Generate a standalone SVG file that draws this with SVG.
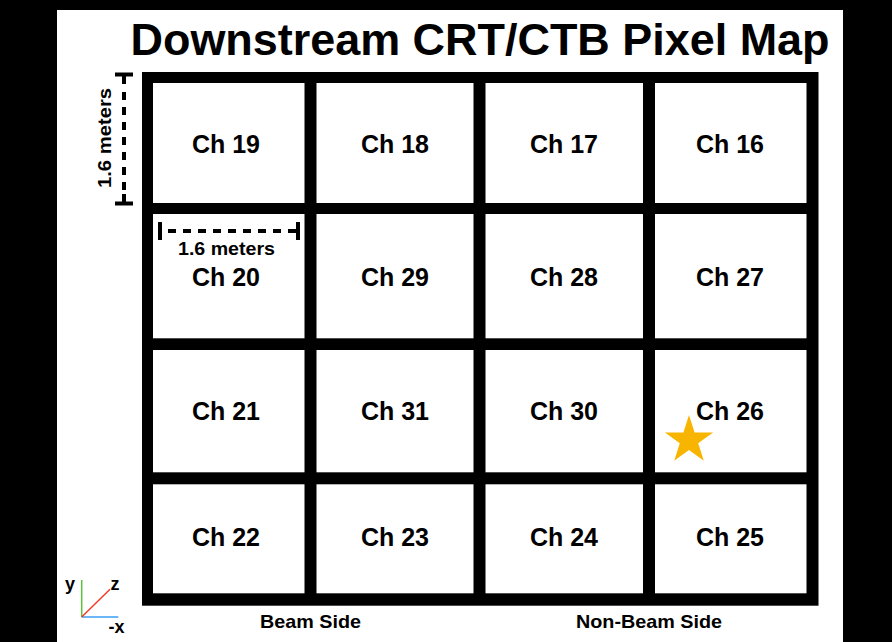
<svg xmlns="http://www.w3.org/2000/svg" width="892" height="642" viewBox="0 0 892 642">
<style>
.lbl{font-family:"Liberation Sans",Arial,Helvetica,sans-serif;font-weight:bold;fill:#000;}
.ch{font-size:25px;text-anchor:middle;}
.cell{fill:#fff;}
.dim{stroke:#000;stroke-width:4;fill:none;}
.dash{stroke:#000;stroke-width:4;stroke-dasharray:8 7;fill:none;}
</style>
<rect x="0" y="0" width="892" height="642" fill="#fff"/>
<rect x="0" y="0" width="57" height="642" fill="#000"/>
<rect x="0" y="0" width="892" height="10" fill="#000"/>
<rect x="843" y="0" width="49" height="642" fill="#000"/>
<text class="lbl" x="130.5" y="55" font-size="44" textLength="699" lengthAdjust="spacingAndGlyphs">Downstream CRT/CTB Pixel Map</text>
<g id="frame">
<rect x="142" y="72" width="676.5" height="533.7" fill="#000"/>
</g>
<g id="ch19"><rect class="cell" x="153" y="83" width="151.5" height="120"/><text class="lbl ch" x="226" y="153" textLength="68">Ch 19</text></g>
<g id="ch18"><rect class="cell" x="316.5" y="83" width="157" height="120"/><text class="lbl ch" x="395" y="153" textLength="68">Ch 18</text></g>
<g id="ch17"><rect class="cell" x="485.5" y="83" width="157.5" height="120"/><text class="lbl ch" x="564" y="153" textLength="68">Ch 17</text></g>
<g id="ch16"><rect class="cell" x="655" y="83" width="151.5" height="120"/><text class="lbl ch" x="730" y="153" textLength="68">Ch 16</text></g>
<g id="ch20"><rect class="cell" x="153" y="214" width="151.5" height="124.3"/><text class="lbl ch" x="226" y="286" textLength="68">Ch 20</text></g>
<g id="ch29"><rect class="cell" x="316.5" y="214" width="157" height="124.3"/><text class="lbl ch" x="395" y="286" textLength="68">Ch 29</text></g>
<g id="ch28"><rect class="cell" x="485.5" y="214" width="157.5" height="124.3"/><text class="lbl ch" x="564" y="286" textLength="68">Ch 28</text></g>
<g id="ch27"><rect class="cell" x="655" y="214" width="151.5" height="124.3"/><text class="lbl ch" x="730" y="286" textLength="68">Ch 27</text></g>
<g id="ch21"><rect class="cell" x="153" y="350" width="151.5" height="122.3"/><text class="lbl ch" x="226" y="420" textLength="68">Ch 21</text></g>
<g id="ch31"><rect class="cell" x="316.5" y="350" width="157" height="122.3"/><text class="lbl ch" x="395" y="420" textLength="68">Ch 31</text></g>
<g id="ch30"><rect class="cell" x="485.5" y="350" width="157.5" height="122.3"/><text class="lbl ch" x="564" y="420" textLength="68">Ch 30</text></g>
<g id="ch26"><rect class="cell" x="655" y="350" width="151.5" height="122.3"/><text class="lbl ch" x="730" y="420" textLength="68">Ch 26</text></g>
<g id="ch22"><rect class="cell" x="153" y="484.3" width="151.5" height="109"/><text class="lbl ch" x="226" y="546" textLength="68">Ch 22</text></g>
<g id="ch23"><rect class="cell" x="316.5" y="484.3" width="157" height="109"/><text class="lbl ch" x="395" y="546" textLength="68">Ch 23</text></g>
<g id="ch24"><rect class="cell" x="485.5" y="484.3" width="157.5" height="109"/><text class="lbl ch" x="564" y="546" textLength="68">Ch 24</text></g>
<g id="ch25"><rect class="cell" x="655" y="484.3" width="151.5" height="109"/><text class="lbl ch" x="730" y="546" textLength="68">Ch 25</text></g>
<g id="star">
<polygon fill="#F7B500" points="689,415 694.6,432.4 713.1,432.5 698.2,443.2 703.8,460.8 689,450 674.2,460.8 679.8,443.2 664.9,432.5 683.4,432.4"/>
</g>
<g id="connectors">
<line class="dim" x1="160" y1="222" x2="160" y2="240"/>
<line class="dash" x1="168" y1="231" x2="296" y2="231"/>
<line class="dim" x1="298" y1="222" x2="298" y2="240"/>
<line class="dim" x1="115" y1="74.5" x2="133" y2="74.5"/>
<line class="dim" x1="124" y1="74" x2="124" y2="84"/>
<line class="dash" x1="124" y1="92" x2="124" y2="196"/>
<line class="dim" x1="124" y1="194" x2="124" y2="204"/>
<line class="dim" x1="115" y1="203.5" x2="133" y2="203.5"/>
<line x1="81.7" y1="617" x2="81.7" y2="580" stroke="#5CC23A" stroke-width="1.5"/>
<line x1="81.7" y1="617" x2="118.3" y2="617" stroke="#3A9EF2" stroke-width="1.5"/>
<line x1="81.7" y1="617" x2="110" y2="589.3" stroke="#F03A2C" stroke-width="1.5"/>
</g>
<text class="lbl" x="226.5" y="255" font-size="18.5" text-anchor="middle" textLength="97" lengthAdjust="spacingAndGlyphs">1.6 meters</text>
<text class="lbl" transform="translate(111,138) rotate(-90)" x="0" y="0" font-size="18.5" text-anchor="middle" textLength="100" lengthAdjust="spacingAndGlyphs">1.6 meters</text>
<text class="lbl" x="70" y="590" font-size="18" text-anchor="middle">y</text>
<text class="lbl" x="115" y="589.5" font-size="18" text-anchor="middle">z</text>
<text class="lbl" x="116.5" y="633" font-size="18" text-anchor="middle">-x</text>
<text class="lbl" x="310.5" y="627.5" font-size="18.5" text-anchor="middle" textLength="101" lengthAdjust="spacingAndGlyphs">Beam Side</text>
<text class="lbl" x="649" y="628" font-size="18.5" text-anchor="middle" textLength="146" lengthAdjust="spacingAndGlyphs">Non-Beam Side</text>
</svg>
